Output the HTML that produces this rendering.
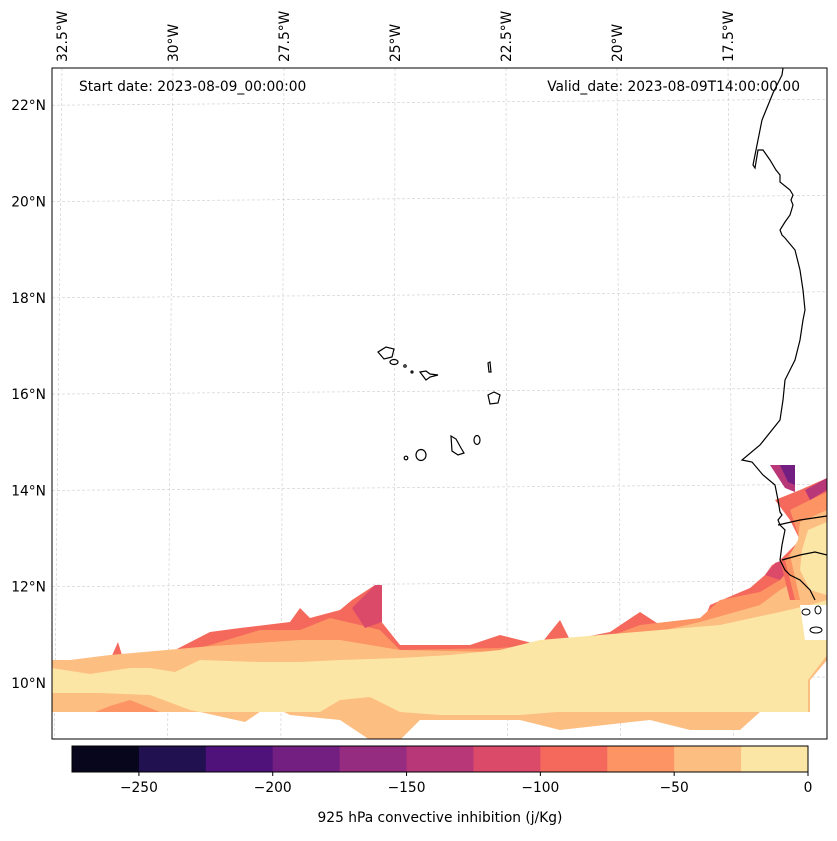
<!DOCTYPE html>
<html><head><meta charset="utf-8"><style>
body{margin:0;background:#fff;}
svg text{font-family:"DejaVu Sans","Liberation Sans",sans-serif;fill:#000;}
</style></head><body>
<svg width="837" height="836" viewBox="0 0 837 836" xmlns="http://www.w3.org/2000/svg">
<defs><clipPath id="mapclip"><rect x="52" y="68" width="775" height="671"/></clipPath></defs>
<g id="grid" stroke="#ccc" stroke-width="0.6" stroke-dasharray="3,2"></g>
<g clip-path="url(#mapclip)">
 <polygon fill="#f4695c" points="110,660 118,642 122,655 140,655 175,650 210,632 240,628 290,622 300,608 310,618 340,610 352,600 375,585 380,620 400,645 470,645 500,635 540,645 560,620 570,640 610,632 640,612 660,625 700,630 710,605 750,588 765,575 772,565 785,560 800,540 827,522 827,640 800,680 400,690 120,685"/>
 <polygon fill="#fc9464" points="52,665 110,660 160,658 210,645 260,630 300,630 330,618 360,625 380,630 400,650 500,648 600,640 640,625 700,618 720,600 760,592 780,580 800,560 827,540 827,660 810,680 810,712 52,712"/>
 <polygon fill="#fdbe82" points="52,660 70,660 110,655 200,647 300,640 340,640 400,650 500,652 600,645 700,622 760,605 780,590 800,578 827,570 827,660 810,680 810,712 760,712 740,730 690,730 650,720 560,730 520,720 420,720 400,740 370,740 340,720 290,715 270,705 245,722 200,712 160,712 130,700 110,706 95,712 52,712"/>
 <polygon fill="#fbe6a6" points="52,668 90,674 130,668 150,668 175,672 200,660 260,662 300,662 340,660 400,658 450,655 500,650 540,640 600,635 660,630 720,625 780,612 810,605 827,600 827,655 808,680 808,712 557,712 520,715 440,715 400,712 370,697 340,700 320,712 250,712 240,712 200,712 190,710 150,695 100,693 52,693"/>
 <polygon fill="#dc4a6a" points="352,608 375,585 382,585 382,622 365,628"/>
 <polygon fill="#dc4a6a" points="765,575 775,563 783,560 790,568 780,580"/>
 <polygon fill="#f4695c" points="775,500 800,490 827,478 827,600 790,600 780,560 800,540 790,520"/>
 <polygon fill="#fc9464" points="790,510 810,500 827,492 827,600 795,600 785,560 800,540"/>
 <polygon fill="#fdbe82" points="800,522 827,510 827,600 800,600 790,555 798,540"/>
 <polygon fill="#fbe6a6" points="808,530 827,522 827,595 810,590 800,570 802,550"/>
 <polygon fill="#b73779" points="770,465 795,465 795,492 785,488"/>
 <polygon fill="#721f81" points="780,465 795,465 795,485 788,482"/>
 <polygon fill="#b73779" points="805,490 827,478 827,490 810,500"/>
 <polygon fill="#fff" points="800,605 827,605 827,640 805,640"/>
 <polyline fill="none" stroke="#000" stroke-width="1.2" points="783,68 782,75 773,93 762,120 756,150 753,165 755,168 758,150 763,150 770,160 776,170 780,175 780,182 790,190 793,195 791,200 793,205 790,215 785,222 780,230 782,235 785,238 795,250 800,270 803,290 805,310 803,320 800,340 795,360 790,370 785,380 783,400 780,420 760,445 742,460 752,462 763,475 775,485 778,500 780,512 782,515 778,520 780,525 785,530 782,545 780,560 785,570 790,575 800,580 810,590 815,600"/>
 <polyline fill="none" stroke="#000" stroke-width="1.2" points="778,525 800,520 827,516"/>
 <polyline fill="none" stroke="#000" stroke-width="1.2" points="782,560 800,555 815,552 827,555"/>
 <g fill="none" stroke="#000" stroke-width="1.2">
  <path d="M378,352 l8,-5 l8,2 l-2,8 l-8,2 z"/><ellipse cx="394" cy="362" rx="4" ry="2.5"/><circle cx="405" cy="366" r="1.2"/><circle cx="412" cy="372" r="1"/>
  <path d="M420,372 l6,-1 l4,3 l8,1 l-8,2 l-4,3 z"/><path d="M488,363 l2,-1 l1,10 l-2,0 z"/><path d="M488,395 l6,-3 l6,3 l-2,8 l-8,1 z"/>
  <path d="M451,436 l5,3 l5,9 l3,5 l-6,2 l-6,-4 z"/><ellipse cx="477" cy="440" rx="3" ry="4.5"/><ellipse cx="421" cy="455" rx="5" ry="5.5"/><circle cx="406" cy="458" r="1.8"/>
 </g>
 <g fill="none" stroke="#000" stroke-width="1"><ellipse cx="806" cy="612" rx="4" ry="3"/><ellipse cx="818" cy="610" rx="3" ry="4"/><ellipse cx="816" cy="630" rx="6" ry="3"/></g>
</g>
<rect x="52" y="68" width="775" height="671" fill="none" stroke="#000" stroke-width="1"/>
<text x="79" y="91" font-size="13.8">Start date: 2023-08-09_00:00:00</text>
<text x="800" y="91" font-size="13.8" text-anchor="end">Valid_date: 2023-08-09T14:00:00.00</text>
<g id="latlabels"></g>
<g id="lonlabels"></g>
<g id="cbar"></g>
<text x="440" y="822" font-size="13.8" text-anchor="middle">925 hPa convective inhibition (j/Kg)</text>
</svg>
<script>
const levels=[-275,-250,-225,-200,-175,-150,-125,-100,-75,-50,-25,0];
const cmapColors=["#07061c","#221150","#4f127b","#721f81","#952c80","#b73779","#dc4a6a","#f4695c","#fc9464","#fdbe82","#fbe6a6"];
const cbarTicks=[-250,-200,-150,-100,-50,0];
const latTicks=[22,20,18,16,14,12,10];
const lonTicks=[32.5,30,27.5,25,22.5,20,17.5];
const NS="http://www.w3.org/2000/svg";
const cx0=72,cx1=808,cy=746,ch=26;
const cxs=v=>cx0+(v-levels[0])/(levels[levels.length-1]-levels[0])*(cx1-cx0);
const latY=v=>683-(v-10)*48.15;
const lonX=v=>617-(v-20)*44.4;
const cb=document.getElementById('cbar');
for(let i=0;i<cmapColors.length;i++){const r=document.createElementNS(NS,'rect');
r.setAttribute('x',cxs(levels[i]));r.setAttribute('y',cy);r.setAttribute('width',cxs(levels[i+1])-cxs(levels[i])+0.5);r.setAttribute('height',ch);r.setAttribute('fill',cmapColors[i]);


cb.appendChild(r);}
const fr=document.createElementNS(NS,'rect');fr.setAttribute('x',cx0);fr.setAttribute('y',cy);fr.setAttribute('width',cx1-cx0);fr.setAttribute('height',ch);fr.setAttribute('fill','none');fr.setAttribute('stroke','#000');


cb.appendChild(fr);
cbarTicks.forEach(t=>{const x=cxs(t);const l=document.createElementNS(NS,'line');l.setAttribute('x1',x);l.setAttribute('x2',x);l.setAttribute('y1',cy+ch);l.setAttribute('y2',cy+ch+4);l.setAttribute('stroke','#000');


cb.appendChild(l);
const tx=document.createElementNS(NS,'text');tx.setAttribute('x',x);tx.setAttribute('y',cy+ch+20);tx.setAttribute('font-size','13.8');tx.setAttribute('text-anchor','middle');tx.textContent=(t<0?'\u2212'+(-t):t);


cb.appendChild(tx);});
const g=document.getElementById('grid'),ll=document.getElementById('latlabels'),lo=document.getElementById('lonlabels');
latTicks.forEach(v=>{const y=latY(v);const l=document.createElementNS(NS,'line');l.setAttribute('x1',52);l.setAttribute('x2',827);l.setAttribute('y1',y);l.setAttribute('y2',y-6);


g.appendChild(l);
const t=document.createElementNS(NS,'text');t.setAttribute('x',46);t.setAttribute('y',y+5);t.setAttribute('font-size','13.8');t.setAttribute('text-anchor','end');t.textContent=v+'°N';


ll.appendChild(t);});
lonTicks.forEach(v=>{const x=lonX(v);const l=document.createElementNS(NS,'line');l.setAttribute('x1',x);l.setAttribute('x2',x+(x-440)*0.02);l.setAttribute('y1',68);l.setAttribute('y2',739);


g.appendChild(l);
const t=document.createElementNS(NS,'text');t.setAttribute('transform','translate('+(x+5)+',62) rotate(-90)');t.setAttribute('font-size','13.8');t.textContent=v+'°W';


lo.appendChild(t);});
</script>
</body></html>
